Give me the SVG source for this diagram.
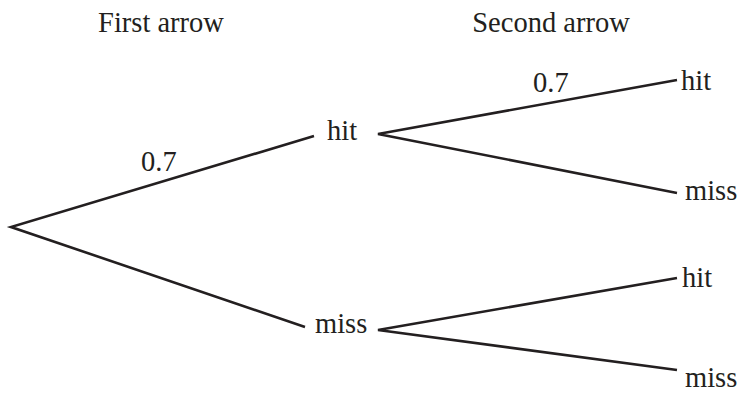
<svg xmlns="http://www.w3.org/2000/svg" width="743" height="401" viewBox="0 0 743 401">
<style>
text{font-family:"Liberation Serif","Times New Roman",serif;font-size:28.5px;fill:#231f20}
.e{stroke:#231f20;stroke-width:2.6;fill:none;stroke-linecap:butt;stroke-linejoin:miter}
</style>
<rect width="743" height="401" fill="#fff"/>
<g id="headers">
<text x="161" y="32" text-anchor="middle">First arrow</text>
<text x="551" y="32" text-anchor="middle">Second arrow</text>
</g>
<g id="connectors">
<polyline class="e" points="314,136 11,227 305,327"/>
<polyline class="e" points="677,80 378,134 677,193"/>
<polyline class="e" points="677,278 378,330 677,370"/>
</g>
<g id="labels">
<text x="141" y="171">0.7</text>
<text x="533" y="92">0.7</text>
</g>
<g id="hit1"><text x="327" y="140">hit</text></g>
<g id="miss1"><text x="315" y="333">miss</text></g>
<g id="hit-hit"><text x="681" y="90">hit</text></g>
<g id="hit-miss"><text x="685" y="200">miss</text></g>
<g id="miss-hit"><text x="682" y="287">hit</text></g>
<g id="miss-miss"><text x="685" y="387">miss</text></g>
</svg>
